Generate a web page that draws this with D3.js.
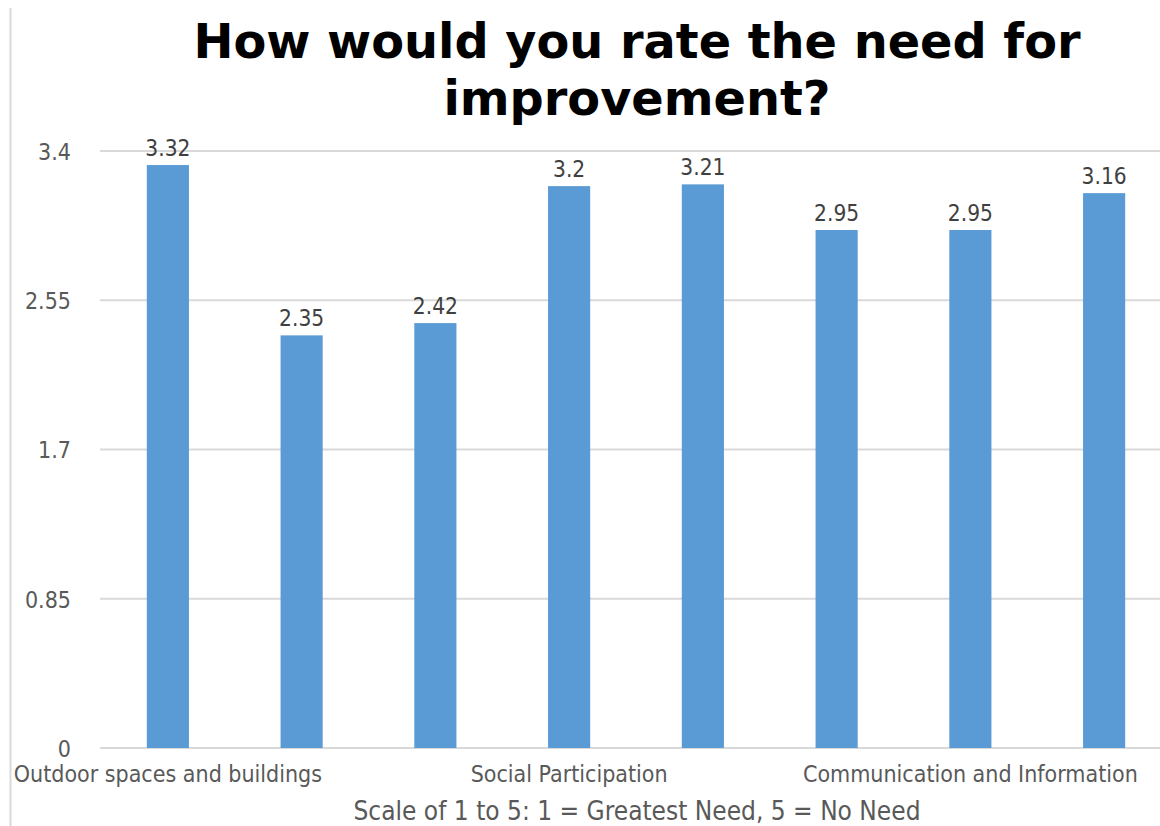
<!DOCTYPE html>
<html><head><meta charset="utf-8">
<script src="https://cdn.jsdelivr.net/npm/d3@7"></script>
<style>body{margin:0;background:#fff;} svg{display:block;}</style>
</head><body>
<svg id="chart" width="1160" height="826"></svg>
<script>
const categories = ["Outdoor spaces and buildings","Transportation","Housing","Social Participation","Respect and Social Inclusion","Civic Participation and Employment","Communication and Information","Community Support and Health Services"];
const shownLabels = ["Outdoor spaces and buildings","Social Participation","Communication and Information"];
const values = [3.32, 2.35, 2.42, 3.2, 3.21, 2.95, 2.95, 3.16];
const yTicks = [0, 0.85, 1.7, 2.55, 3.4];
const titleLines = ["How would you rate the need for","improvement?"];
const axisTitle = "Scale of 1 to 5: 1 = Greatest Need, 5 = No Need";

const svg = d3.select("#chart");
const font = "'DejaVu Sans Condensed','DejaVu Sans',sans-serif";
const x = d3.scaleBand().domain(categories).range([101, 1171]).paddingInner(0.685).paddingOuter(0.3425);
const y = d3.scaleLinear().domain([0, 3.4]).range([748, 151]);

// left border
svg.append("line").attr("x1",10.5).attr("x2",10.5).attr("y1",8).attr("y2",826).attr("stroke","#d9d9d9").attr("stroke-width",2);

// gridlines
svg.append("g").selectAll("line").data(yTicks).join("line")
  .attr("x1",100).attr("x2",1160).attr("y1",d=>y(d)).attr("y2",d=>y(d))
  .attr("stroke","#d9d9d9").attr("stroke-width",2);

// y axis labels
const yAxis = d3.axisLeft(y).tickValues(yTicks).tickSize(0).tickPadding(0).tickFormat(d=>String(d));
const gy = svg.append("g").attr("transform","translate(71,1)").call(yAxis);
gy.select(".domain").remove();
gy.selectAll("text").attr("font-family",font).attr("font-size",23).attr("fill","#595959");

// bars
svg.append("g").selectAll("rect").data(values).join("rect")
  .attr("x",(d,i)=>x(categories[i])).attr("width",x.bandwidth())
  .attr("y",d=>y(d)).attr("height",d=>y(0)-y(d)).attr("fill","#5b9bd5");

// data labels
svg.append("g").selectAll("text").data(values).join("text")
  .attr("x",(d,i)=>x(categories[i])+x.bandwidth()/2).attr("y",d=>y(d)-9)
  .attr("text-anchor","middle").attr("font-family",font).attr("font-size",22.5).attr("fill","#404040")
  .text(d=>String(d));

// x axis labels
const xAxis = d3.axisBottom(x).tickSize(0).tickPadding(0).tickFormat(d=>shownLabels.includes(d)?d:"");
const gx = svg.append("g").attr("transform","translate(0,782)").call(xAxis);
gx.select(".domain").remove();
gx.selectAll("text").attr("font-family",font).attr("font-size",23).attr("fill","#595959").attr("dy","0");

// axis title
svg.append("text").attr("x",637).attr("y",820).attr("text-anchor","middle")
  .attr("font-family",font).attr("font-size",26).attr("fill","#595959").text(axisTitle);

// title
svg.append("g").selectAll("text").data(titleLines).join("text")
  .attr("x",637).attr("y",(d,i)=>58+i*57).attr("text-anchor","middle")
  .attr("font-family","'DejaVu Sans',sans-serif").attr("font-weight","bold").attr("font-size",47.8).attr("fill","#000")
  .text(d=>d);
</script>
</body></html>
